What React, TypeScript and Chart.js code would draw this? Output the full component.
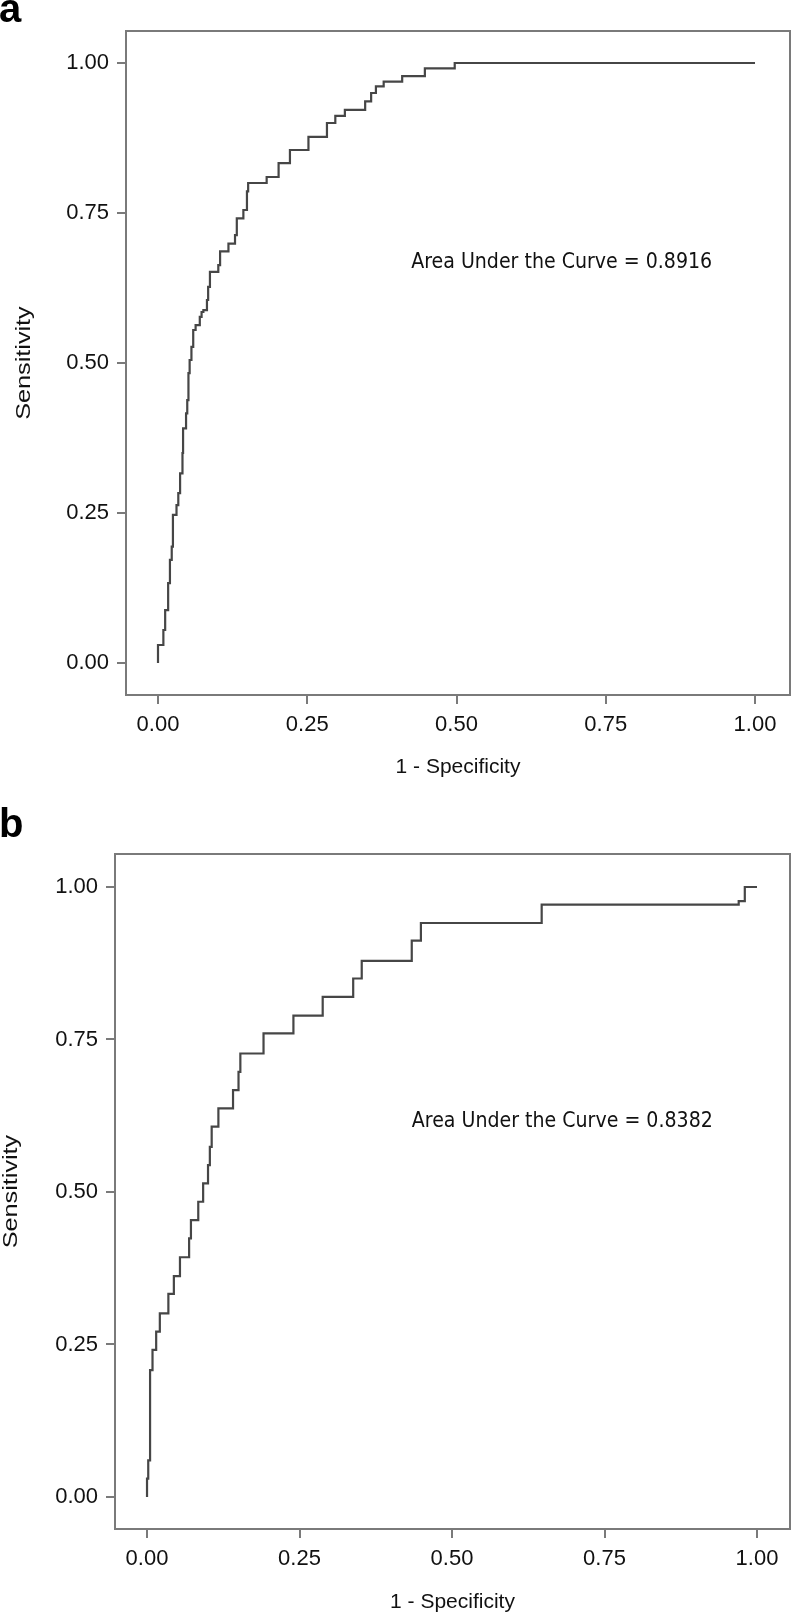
import React, { useEffect, useRef } from 'react';
import { Chart, registerables } from 'chart.js';

Chart.register(...registerables);

// ---- data ----
const X_TICKS = [0, 0.25, 0.5, 0.75, 1];
const Y_TICKS = [0, 0.25, 0.5, 0.75, 1];

// Panel a: ROC corner points (1 - specificity, sensitivity)
const FPR_A = [
  0, 0, 0.009, 0.009, 0.012, 0.012, 0.017, 0.017, 0.02, 0.02, 0.023, 0.023, 0.025, 0.025,
  0.031, 0.031, 0.034, 0.034, 0.037, 0.037, 0.041, 0.041, 0.042, 0.042, 0.047, 0.047,
  0.049, 0.049, 0.051, 0.051, 0.053, 0.053, 0.056, 0.056, 0.059, 0.059, 0.063, 0.063,
  0.07, 0.07, 0.073, 0.073, 0.076, 0.076, 0.082, 0.082, 0.084, 0.084, 0.087, 0.087,
  0.101, 0.101, 0.104, 0.104, 0.118, 0.118, 0.129, 0.129, 0.132, 0.132, 0.143, 0.143,
  0.149, 0.149, 0.151, 0.151, 0.182, 0.182, 0.202, 0.202, 0.221, 0.221, 0.252, 0.252,
  0.283, 0.283, 0.297, 0.297, 0.313, 0.313, 0.347, 0.347, 0.357, 0.357, 0.365, 0.365,
  0.378, 0.378, 0.409, 0.409, 0.447, 0.447, 0.497, 0.497, 1.0,
];
const TPR_A = [
  0, 0.03, 0.03, 0.055, 0.055, 0.088, 0.088, 0.133, 0.133, 0.172, 0.172, 0.194, 0.194, 0.247,
  0.247, 0.263, 0.263, 0.283, 0.283, 0.316, 0.316, 0.35, 0.35, 0.391, 0.391, 0.416,
  0.416, 0.438, 0.438, 0.483, 0.483, 0.505, 0.505, 0.527, 0.527, 0.555, 0.555, 0.563,
  0.563, 0.577, 0.577, 0.585, 0.585, 0.588, 0.588, 0.605, 0.605, 0.627, 0.627, 0.652,
  0.652, 0.663, 0.663, 0.686, 0.686, 0.699, 0.699, 0.713, 0.713, 0.741, 0.741, 0.755,
  0.755, 0.786, 0.786, 0.8, 0.8, 0.81, 0.81, 0.833, 0.833, 0.855, 0.855, 0.877,
  0.877, 0.9, 0.9, 0.912, 0.912, 0.922, 0.922, 0.936, 0.936, 0.95, 0.95, 0.961,
  0.961, 0.969, 0.969, 0.978, 0.978, 0.991, 0.991, 1.0, 1.0,
];
const AUC_A = '0.8916';

// Panel b: ROC corner points
const FPR_B = [
  0, 0, 0.002, 0.002, 0.005, 0.005, 0.009, 0.009, 0.015, 0.015, 0.021, 0.021, 0.035, 0.035,
  0.044, 0.044, 0.054, 0.054, 0.069, 0.069, 0.072, 0.072, 0.084, 0.084, 0.092, 0.092,
  0.1, 0.1, 0.103, 0.103, 0.106, 0.106, 0.117, 0.117, 0.141, 0.141, 0.15, 0.15,
  0.153, 0.153, 0.191, 0.191, 0.24, 0.24, 0.288, 0.288, 0.338, 0.338, 0.352, 0.352,
  0.434, 0.434, 0.449, 0.449, 0.647, 0.647, 0.97, 0.97, 0.98, 0.98, 1.0,
];
const TPR_B = [
  0, 0.03, 0.03, 0.06, 0.06, 0.208, 0.208, 0.241, 0.241, 0.271, 0.271, 0.301, 0.301, 0.333,
  0.333, 0.362, 0.362, 0.393, 0.393, 0.424, 0.424, 0.454, 0.454, 0.484, 0.484, 0.514,
  0.514, 0.544, 0.544, 0.574, 0.574, 0.607, 0.607, 0.637, 0.637, 0.667, 0.667, 0.697,
  0.697, 0.727, 0.727, 0.76, 0.76, 0.789, 0.789, 0.82, 0.82, 0.85, 0.85, 0.879,
  0.879, 0.912, 0.912, 0.941, 0.941, 0.971, 0.971, 0.977, 0.977, 1.0, 1.0,
];
const AUC_B = '0.8382';

// ---- styles ----
const LINE = '#464646';
const FRAME = '#7a7a7a';
const TEXT = '#111111';
const SANS = "'Liberation Sans', Arial, sans-serif";

type PanelCfg = {
  width: number;
  height: number;
  padTop: number;
  yAxisW: number;
  xAxisH: number;
  xMin: number;
  xMax: number;
  yMin: number;
  yMax: number;
  fpr: number[];
  tpr: number[];
  auc: string;
  annX: number;
  annY: number;
  letter: string;
  letterY: number;
  yTitleX: number;
  xTitlePad: number;
};

function makeChart(canvas: HTMLCanvasElement, c: PanelCfg) {
  const points = c.fpr.map((x, i) => ({ x, y: c.tpr[i] }));
  const decor = {
    id: 'decor',
    afterDraw(chart: any) {
      const { ctx, chartArea: a, scales } = chart;
      ctx.save();
      // frame
      ctx.strokeStyle = FRAME;
      ctx.lineWidth = 2;
      ctx.strokeRect(a.left, a.top, a.right - a.left, a.bottom - a.top);
      // annotation
      ctx.fillStyle = TEXT;
      ctx.font = "19px 'DejaVu Sans', sans-serif";
      ctx.textBaseline = 'middle';
      ctx.textAlign = 'left';
      const ax = scales.x.getPixelForValue(c.annX);
      const ay = scales.y.getPixelForValue(c.annY);
      ctx.save();
      ctx.translate(ax, ay);
      ctx.scale(1, 1.08);
      ctx.fillText(`Area Under the Curve = ${c.auc}`, 0, 0);
      ctx.restore();
      // y-axis title (stretched along its length like the original)
      ctx.save();
      ctx.translate(c.yTitleX, (a.top + a.bottom) / 2);
      ctx.rotate(-Math.PI / 2);
      ctx.scale(1.2, 1);
      ctx.font = `21px ${SANS}`;
      ctx.textAlign = 'center';
      ctx.textBaseline = 'middle';
      ctx.fillText('Sensitivity', 0, 0);
      ctx.restore();
      // panel letter
      ctx.fillStyle = '#000';
      ctx.font = `bold 40px ${SANS}`;
      ctx.textAlign = 'left';
      ctx.textBaseline = 'alphabetic';
      ctx.fillText(c.letter, -1, c.letterY);
      ctx.restore();
    },
  };
  const tickFont = { family: SANS, size: 22 };
  const titleFont = { family: SANS, size: 21 };
  return new Chart(canvas, {
    type: 'line',
    data: {
      datasets: [
        {
          data: points,
          borderColor: LINE,
          borderWidth: 2.2,
          pointRadius: 0,
          tension: 0,
          fill: false,
        },
      ],
    },
    options: {
      animation: false,
      responsive: false,
      maintainAspectRatio: false,
      layout: { padding: { top: c.padTop, right: 3, left: 0, bottom: 0 } },
      plugins: { legend: { display: false }, tooltip: { enabled: false } },
      scales: {
        x: {
          type: 'linear',
          min: c.xMin,
          max: c.xMax,
          afterBuildTicks: (axis: any) => {
            axis.ticks = X_TICKS.map((v) => ({ value: v }));
          },
          afterFit: (s: any) => {
            s.height = c.xAxisH;
          },
          grid: {
            display: true,
            drawOnChartArea: false,
            drawTicks: true,
            tickLength: 9,
            color: FRAME,
            lineWidth: 2,
          },
          border: { display: false },
          ticks: {
            callback: (v: any) => Number(v).toFixed(2),
            font: tickFont,
            color: TEXT,
            padding: 8,
            maxRotation: 0,
            autoSkip: false,
          },
          title: {
            display: true,
            text: '1 - Specificity',
            font: titleFont,
            color: TEXT,
            padding: { top: 0, bottom: c.xTitlePad },
          },
        },
        y: {
          type: 'linear',
          min: c.yMin,
          max: c.yMax,
          afterBuildTicks: (axis: any) => {
            axis.ticks = Y_TICKS.map((v) => ({ value: v }));
          },
          afterFit: (s: any) => {
            s.width = c.yAxisW;
          },
          grid: {
            display: true,
            drawOnChartArea: false,
            drawTicks: true,
            tickLength: 9,
            color: FRAME,
            lineWidth: 2,
          },
          border: { display: false },
          ticks: {
            callback: (v: any) => Number(v).toFixed(2),
            font: tickFont,
            color: TEXT,
            padding: 8,
            autoSkip: false,
          },
          title: { display: false },
        },
      },
    },
    plugins: [decor],
  } as any);
}

const PANEL_A: PanelCfg = {
  width: 793,
  height: 790,
  padTop: 31,
  yAxisW: 126,
  xAxisH: 95,
  xMin: -0.0536,
  xMax: 1.0586,
  yMin: -0.0533,
  yMax: 1.0533,
  fpr: FPR_A,
  tpr: TPR_A,
  auc: AUC_A,
  annX: 0.424,
  annY: 0.667,
  letter: 'a',
  letterY: 22,
  yTitleX: 24,
  xTitlePad: 10,
};

const PANEL_B: PanelCfg = {
  width: 793,
  height: 826,
  padTop: 64,
  yAxisW: 115,
  xAxisH: 87,
  xMin: -0.0525,
  xMax: 1.0541,
  yMin: -0.0525,
  yMax: 1.0541,
  fpr: FPR_B,
  tpr: TPR_B,
  auc: AUC_B,
  annX: 0.434,
  annY: 0.615,
  letter: 'b',
  letterY: 47,
  yTitleX: 11,
  xTitlePad: 1,
};

function Panel({ cfg, top }: { cfg: PanelCfg; top: number }) {
  const ref = useRef<HTMLCanvasElement | null>(null);
  useEffect(() => {
    if (!ref.current) return;
    const ch = makeChart(ref.current, cfg);
    return () => ch.destroy();
  }, [cfg]);
  return (
    <canvas
      ref={ref}
      width={cfg.width}
      height={cfg.height}
      style={{ position: 'absolute', left: 0, top, width: cfg.width, height: cfg.height }}
    />
  );
}

export default function App() {
  return (
    <div
      style={{
        position: 'absolute',
        left: 0,
        top: 0,
        width: 793,
        height: 1616,
        background: '#ffffff',
        overflow: 'hidden',
      }}
    >
      <Panel cfg={PANEL_A} top={0} />
      <Panel cfg={PANEL_B} top={790} />
    </div>
  );
}
